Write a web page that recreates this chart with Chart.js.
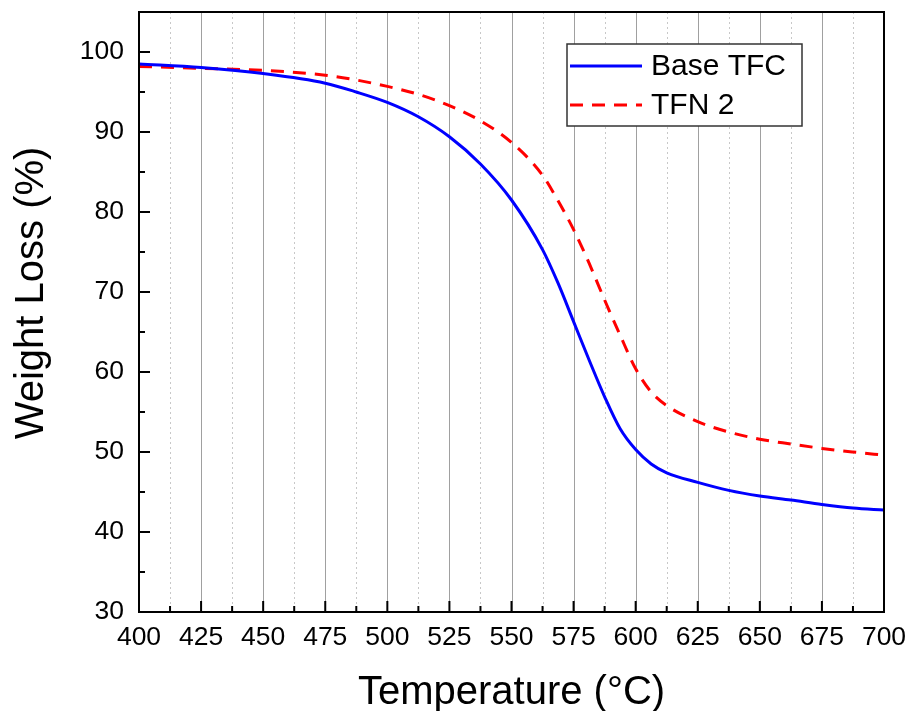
<!DOCTYPE html>
<html>
<head>
<meta charset="utf-8">
<title>TGA</title>
<script src="https://cdn.jsdelivr.net/npm/chart.js@4.4.1/dist/chart.umd.min.js"></script>
<style>
  body { margin: 0; background: #fff; }
  #wrap { width: 910px; height: 711px; }
</style>
</head>
<body>
<div id="wrap"><canvas id="tgaChart" width="910" height="711"></canvas></div>
<script>
// values
const temperature = [400, 425, 450, 475, 487.5, 500, 512.5, 525, 537.5, 550, 562.5, 568.75, 575, 581.25, 587.5, 593.75, 600, 606.25, 612.5, 625, 637.5, 650, 662.5, 675, 687.5, 700];
const baseTFC = [98.5, 98.05, 97.3, 96.1, 95.0, 93.7, 91.9, 89.4, 86.0, 81.5, 75.3, 71.1, 66.3, 61.5, 56.9, 52.9, 50.3, 48.5, 47.4, 46.2, 45.2, 44.5, 44.0, 43.45, 43.0, 42.75];
const tfn2 = [98.2, 97.95, 97.7, 97.1, 96.5, 95.7, 94.7, 93.3, 91.4, 88.7, 84.6, 81.4, 77.8, 73.6, 69.0, 64.6, 60.4, 57.5, 55.8, 53.8, 52.5, 51.6, 51.0, 50.45, 50.0, 49.6];

const xTicks = [400, 425, 450, 475, 500, 525, 550, 575, 600, 625, 650, 675, 700];
const xMinorTicks = [412.5, 437.5, 462.5, 487.5, 512.5, 537.5, 562.5, 587.5, 612.5, 637.5, 662.5, 687.5];
const yTicks = [30, 40, 50, 60, 70, 80, 90, 100];
const yMinorTicks = [35, 45, 55, 65, 75, 85, 95];

const FONT = "Arial, 'Liberation Sans', sans-serif";

const frameAndGrid = {
    id: 'frameAndGrid',
    beforeDatasetsDraw(chart) {
        const ctx = chart.ctx;
        const a = chart.chartArea;
        const xs = chart.scales.x;
        ctx.save();
        // minor vertical grid (dotted)
        ctx.strokeStyle = '#c8c8c8';
        ctx.lineWidth = 1;
        ctx.setLineDash([2, 3]);
        xMinorTicks.forEach(v => {
            const px = Math.round(xs.getPixelForValue(v)) + 0.5;
            ctx.beginPath(); ctx.moveTo(px, a.top); ctx.lineTo(px, a.bottom); ctx.stroke();
        });
        // major vertical grid
        ctx.setLineDash([]);
        ctx.strokeStyle = '#a0a0a0';
        xTicks.forEach(v => {
            const px = Math.round(xs.getPixelForValue(v)) + 0.5;
            ctx.beginPath(); ctx.moveTo(px, a.top); ctx.lineTo(px, a.bottom); ctx.stroke();
        });
        ctx.restore();
    },
    afterDatasetsDraw(chart) {
        const ctx = chart.ctx;
        const a = chart.chartArea;
        const xs = chart.scales.x;
        const ys = chart.scales.y;
        ctx.save();
        ctx.strokeStyle = '#000';
        ctx.lineWidth = 2;
        ctx.strokeRect(a.left, a.top, a.right - a.left, a.bottom - a.top);
        // inward ticks
        ctx.beginPath();
        xTicks.forEach(v => { const px = xs.getPixelForValue(v); ctx.moveTo(px, a.bottom); ctx.lineTo(px, a.bottom - 11); });
        xMinorTicks.forEach(v => { const px = xs.getPixelForValue(v); ctx.moveTo(px, a.bottom); ctx.lineTo(px, a.bottom - 6); });
        yTicks.forEach(v => { const py = ys.getPixelForValue(v); ctx.moveTo(a.left, py); ctx.lineTo(a.left + 11, py); });
        yMinorTicks.forEach(v => { const py = ys.getPixelForValue(v); ctx.moveTo(a.left, py); ctx.lineTo(a.left + 6, py); });
        ctx.stroke();

        // legend box
        const lx = 567, ly = 44, lw = 235, lh = 82;
        ctx.fillStyle = '#fff';
        ctx.fillRect(lx, ly, lw, lh);
        ctx.lineWidth = 1.5;
        ctx.strokeStyle = '#333';
        ctx.strokeRect(lx, ly, lw, lh);
        ctx.font = '30px ' + FONT;
        ctx.textBaseline = 'middle';
        ctx.fillStyle = '#000';
        chart.data.datasets.forEach((ds, i) => {
            const cy = ly + 22 + i * 39;
            ctx.strokeStyle = ds.borderColor;
            ctx.lineWidth = ds.borderWidth;
            ctx.setLineDash(ds.borderDash || []);
            ctx.beginPath(); ctx.moveTo(lx + 3, cy); ctx.lineTo(lx + 75, cy); ctx.stroke();
            ctx.setLineDash([]);
            ctx.fillText(ds.label, lx + 84, cy + 1);
        });

        // axis titles
        ctx.font = '40px ' + FONT;
        ctx.textAlign = 'center';
        ctx.textBaseline = 'alphabetic';
        ctx.fillText('Temperature (°C)', (a.left + a.right) / 2, 704);
        ctx.translate(43, 293);
        ctx.rotate(-Math.PI / 2);
        ctx.fillText('Weight Loss (%)', 0, 0);
        ctx.restore();
    }
};

new Chart(document.getElementById('tgaChart').getContext('2d'), {
    type: 'line',
    data: {
        datasets: [{
            label: 'Base TFC',
            data: temperature.map((t, i) => ({ x: t, y: baseTFC[i] })),
            borderColor: '#0000ff',
            borderWidth: 3,
            pointRadius: 0,
            cubicInterpolationMode: 'monotone',
            fill: false
        }, {
            label: 'TFN 2',
            data: temperature.map((t, i) => ({ x: t, y: tfn2[i] })),
            borderColor: '#ff0000',
            borderWidth: 3,
            borderDash: [13, 9],
            pointRadius: 0,
            cubicInterpolationMode: 'monotone',
            fill: false
        }]
    },
    options: {
        responsive: false,
        animation: false,
        devicePixelRatio: 1,
        layout: { padding: { left: 0, top: 12, right: 26, bottom: 0 } },
        plugins: {
            legend: { display: false },
            title: { display: false },
            tooltip: { enabled: false }
        },
        scales: {
            x: {
                type: 'linear',
                min: 400,
                max: 700,
                afterBuildTicks: s => { s.ticks = xTicks.map(v => ({ value: v })); },
                afterFit: s => { s.height = 99; s.paddingLeft = 0; s.paddingRight = 0; },
                grid: { display: false, drawTicks: false },
                border: { display: false },
                ticks: { color: '#000', font: { family: FONT, size: 26.5 }, padding: 10, maxRotation: 0 }
            },
            y: {
                type: 'linear',
                min: 30,
                max: 105,
                afterBuildTicks: s => { s.ticks = yTicks.map(v => ({ value: v })); },
                afterFit: s => { s.width = 139; s.paddingTop = 0; s.paddingBottom = 0; },
                grid: { display: false, drawTicks: false },
                border: { display: false },
                ticks: { color: '#000', font: { family: FONT, size: 26.5 }, padding: 15 }
            }
        }
    },
    plugins: [frameAndGrid]
});
</script>
</body>
</html>
